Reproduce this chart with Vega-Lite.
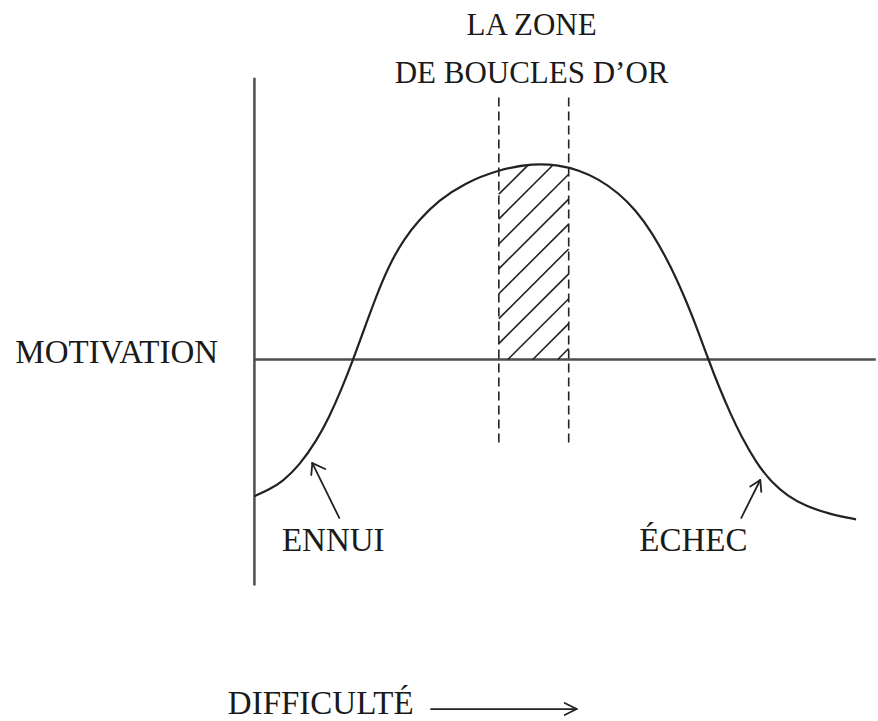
{
  "$schema": "https://vega.github.io/schema/vega-lite/v6.json",
  "width": 878,
  "height": 721,
  "autosize": {"type": "fit", "contains": "padding"},
  "padding": 0,
  "background": "white",
  "config": {"view": {"stroke": null}},
  "datasets": {
    "axes": [
      {"x": 0, "y": 141.5, "x2": 0, "y2": -113.5},
      {"x": 0, "y": 0, "x2": 103.8, "y2": 0}
    ],
    "dashes": [
      {"x": 40.83, "y": 131.5, "x2": 40.83, "y2": -42},
      {"x": 52.5, "y": 131.5, "x2": 52.5, "y2": -42}
    ],
    "hatch": [
      {"x": 40.83, "y": 83, "x2": 45.67, "y2": 97.5},
      {"x": 40.83, "y": 70.5, "x2": 49.75, "y2": 97.25},
      {"x": 40.83, "y": 58, "x2": 52.5, "y2": 93},
      {"x": 40.83, "y": 45.5, "x2": 52.5, "y2": 80.5},
      {"x": 40.83, "y": 33, "x2": 52.5, "y2": 68},
      {"x": 40.83, "y": 20.5, "x2": 52.5, "y2": 55.5},
      {"x": 40.83, "y": 8, "x2": 52.5, "y2": 43},
      {"x": 42.33, "y": 0, "x2": 52.5, "y2": 30.5},
      {"x": 46.5, "y": 0, "x2": 52.5, "y2": 18},
      {"x": 50.67, "y": 0, "x2": 52.5, "y2": 5.5}
    ],
    "curve": [
      {"x": 0, "y": -68.65},
      {"x": 2.5, "y": -65.25},
      {"x": 4.67, "y": -61.35},
      {"x": 7.5, "y": -53.25},
      {"x": 10.5, "y": -40.2},
      {"x": 12.5, "y": -28.8},
      {"x": 14.5, "y": -15.3},
      {"x": 16.5, "y": 0},
      {"x": 18.67, "y": 18.05},
      {"x": 20.83, "y": 35.6},
      {"x": 22.83, "y": 49.25},
      {"x": 25, "y": 60.45},
      {"x": 27.5, "y": 70.1},
      {"x": 30.83, "y": 79.95},
      {"x": 35, "y": 88.4},
      {"x": 40.83, "y": 95.4},
      {"x": 46.67, "y": 98.5},
      {"x": 50.83, "y": 97.6},
      {"x": 54.17, "y": 95.1},
      {"x": 57.5, "y": 90.6},
      {"x": 60.83, "y": 83.6},
      {"x": 63.67, "y": 75.1},
      {"x": 66.33, "y": 64.3},
      {"x": 69.67, "y": 46.3},
      {"x": 72.5, "y": 26.75},
      {"x": 74.17, "y": 13.75},
      {"x": 75.83, "y": 0},
      {"x": 77.5, "y": -13},
      {"x": 79.5, "y": -27.1},
      {"x": 81.33, "y": -38.65},
      {"x": 83.83, "y": -51.8},
      {"x": 86.33, "y": -61.55},
      {"x": 89.17, "y": -68.75},
      {"x": 92, "y": -73.45},
      {"x": 95.83, "y": -77.45},
      {"x": 100.5, "y": -80.25}
    ],
    "arrows": [
      {"x": 14.17, "y": -79.5, "x2": 9.67, "y2": -52},
      {"x": 9.67, "y": -52, "x2": 9.5, "y2": -58},
      {"x": 9.67, "y": -52, "x2": 11.83, "y2": -55},
      {"x": 81.33, "y": -79.5, "x2": 84.5, "y2": -60.5},
      {"x": 84.5, "y": -60.5, "x2": 82.83, "y2": -63.8},
      {"x": 84.5, "y": -60.5, "x2": 84.67, "y2": -66.5},
      {"x": 29.5, "y": -175.5, "x2": 53.83, "y2": -175.5},
      {"x": 53.83, "y": -175.5, "x2": 51.83, "y2": -172.5},
      {"x": 53.83, "y": -175.5, "x2": 51.83, "y2": -178.5}
    ],
    "labels": [
      {"x": -23, "y": -2, "label": "MOTIVATION"},
      {"x": 13.17, "y": -96, "label": "ENNUI"},
      {"x": 73.33, "y": -96, "label": "ÉCHEC"},
      {"x": 11.08, "y": -178, "label": "DIFFICULTÉ"}
    ],
    "title": [
      {"x": 46.3, "y": 163, "label": "LA ZONE"},
      {"x": 46.3, "y": 139, "label": "DE BOUCLES D’OR"}
    ]
  },
  "layer": [
    {
      "data": {"name": "axes"},
      "mark": {"type": "rule", "stroke": "#4d4d4d", "strokeWidth": 2.5},
      "encoding": {
        "x": {"field": "x", "type": "quantitative", "axis": null, "scale": {"domain": [-42.5, 103.8333], "nice": false, "zero": false}},
        "y": {"field": "y", "type": "quantitative", "axis": null, "scale": {"domain": [-180, 180.5], "nice": false, "zero": false}},
        "x2": {"field": "x2"},
        "y2": {"field": "y2"}
      }
    },
    {
      "data": {"name": "dashes"},
      "mark": {"type": "rule", "stroke": "#222222", "strokeWidth": 1.6, "strokeDash": [9, 5]},
      "encoding": {
        "x": {"field": "x", "type": "quantitative", "axis": null, "scale": {"domain": [-42.5, 103.8333], "nice": false, "zero": false}},
        "y": {"field": "y", "type": "quantitative", "axis": null, "scale": {"domain": [-180, 180.5], "nice": false, "zero": false}},
        "x2": {"field": "x2"},
        "y2": {"field": "y2"}
      }
    },
    {
      "data": {"name": "hatch"},
      "mark": {"type": "rule", "stroke": "#222222", "strokeWidth": 1.6},
      "encoding": {
        "x": {"field": "x", "type": "quantitative", "axis": null, "scale": {"domain": [-42.5, 103.8333], "nice": false, "zero": false}},
        "y": {"field": "y", "type": "quantitative", "axis": null, "scale": {"domain": [-180, 180.5], "nice": false, "zero": false}},
        "x2": {"field": "x2"},
        "y2": {"field": "y2"}
      }
    },
    {
      "data": {"name": "curve"},
      "mark": {"type": "line", "stroke": "#222222", "strokeWidth": 2.2, "interpolate": "basis"},
      "encoding": {
        "x": {"field": "x", "type": "quantitative", "axis": null, "scale": {"domain": [-42.5, 103.8333], "nice": false, "zero": false}},
        "y": {"field": "y", "type": "quantitative", "axis": null, "scale": {"domain": [-180, 180.5], "nice": false, "zero": false}}
      }
    },
    {
      "data": {"name": "arrows"},
      "mark": {"type": "rule", "stroke": "#222222", "strokeWidth": 1.8, "strokeCap": "round"},
      "encoding": {
        "x": {"field": "x", "type": "quantitative", "axis": null, "scale": {"domain": [-42.5, 103.8333], "nice": false, "zero": false}},
        "y": {"field": "y", "type": "quantitative", "axis": null, "scale": {"domain": [-180, 180.5], "nice": false, "zero": false}},
        "x2": {"field": "x2"},
        "y2": {"field": "y2"}
      }
    },
    {
      "data": {"name": "labels"},
      "mark": {"type": "text", "font": "Liberation Serif", "fontSize": 33, "fill": "#1a1a1a", "align": "center", "baseline": "alphabetic"},
      "encoding": {
        "x": {"field": "x", "type": "quantitative", "axis": null, "scale": {"domain": [-42.5, 103.8333], "nice": false, "zero": false}},
        "y": {"field": "y", "type": "quantitative", "axis": null, "scale": {"domain": [-180, 180.5], "nice": false, "zero": false}},
        "text": {"field": "label"}
      }
    },
    {
      "data": {"name": "title"},
      "mark": {"type": "text", "font": "Liberation Serif", "fontSize": 31, "fill": "#1a1a1a", "align": "center", "baseline": "alphabetic"},
      "encoding": {
        "x": {"field": "x", "type": "quantitative", "axis": null, "scale": {"domain": [-42.5, 103.8333], "nice": false, "zero": false}},
        "y": {"field": "y", "type": "quantitative", "axis": null, "scale": {"domain": [-180, 180.5], "nice": false, "zero": false}},
        "text": {"field": "label"}
      }
    }
  ]
}
